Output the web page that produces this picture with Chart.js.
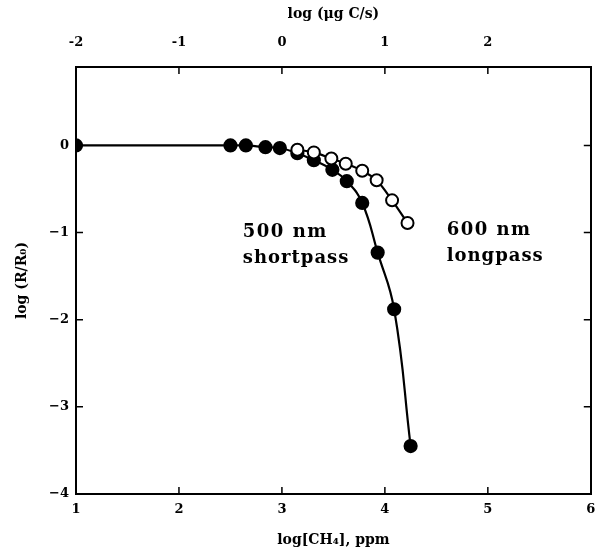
<!DOCTYPE html>
<html>
<head>
<meta charset="utf-8">
<script src="https://cdn.jsdelivr.net/npm/chart.js@4"></script>
<style>
  html, body { margin: 0; padding: 0; background: #fff; }
  #wrap { width: 599px; height: 553px; }
</style>
</head>
<body>
<div id="wrap"><canvas id="chart" width="599" height="553"></canvas></div>
<script>
// 500 nm shortpass (filled circles)
const shortX = [1.0, 2.50, 2.65, 2.84, 2.98, 3.15, 3.31, 3.49, 3.63, 3.78, 3.93, 4.09, 4.25];
const shortY = [0.0, 0.0, 0.0, -0.02, -0.03, -0.09, -0.17, -0.28, -0.41, -0.66, -1.23, -1.88, -3.45];

// 600 nm longpass (open circles)
const longX = [3.15, 3.31, 3.48, 3.62, 3.78, 3.92, 4.07, 4.22];
const longY = [-0.05, -0.08, -0.15, -0.21, -0.29, -0.40, -0.63, -0.89];

const bottomTicks = [1, 2, 3, 4, 5, 6];
const topTicks = [-2, -1, 0, 1, 2];
const leftTicks = [0, -1, -2, -3, -4];

const FONT = "'DejaVu Serif', serif";
const toPoints = (xs, ys) => xs.map((x, i) => ({ x: x, y: ys[i] }));

// inward tick marks on all four sides + curve labels
const innerTicks = {
  id: "innerTicks",
  afterDatasetsDraw(chart) {
    const ctx = chart.ctx;
    const a = chart.chartArea;
    const x = chart.scales.x, y = chart.scales.y;
    ctx.save();
    ctx.strokeStyle = "#000";
    ctx.lineWidth = 1.5;
    ctx.beginPath();
    bottomTicks.forEach(v => {
      const px = x.getPixelForValue(v);
      ctx.moveTo(px, a.bottom); ctx.lineTo(px, a.bottom - 7);
      ctx.moveTo(px, a.top); ctx.lineTo(px, a.top + 7);
    });
    leftTicks.forEach(v => {
      const py = y.getPixelForValue(v);
      ctx.moveTo(a.left, py); ctx.lineTo(a.left + 7, py);
      ctx.moveTo(a.right, py); ctx.lineTo(a.right - 7, py);
    });
    ctx.stroke();
    ctx.restore();
  },
  afterDraw(chart) {
    const ctx = chart.ctx;
    const x = chart.scales.x, y = chart.scales.y;
    ctx.save();
    ctx.fillStyle = "#000";
    ctx.font = "bold 18px " + FONT;
    ctx.textBaseline = "middle";
    ctx.letterSpacing = "1.5px";
    ctx.fillText("500 nm", x.getPixelForValue(2.62), y.getPixelForValue(-1.0));
    ctx.fillText("600 nm", x.getPixelForValue(4.60), y.getPixelForValue(-0.97));
    ctx.letterSpacing = "1px";
    ctx.fillText("shortpass", x.getPixelForValue(2.62), y.getPixelForValue(-1.29));
    ctx.fillText("longpass", x.getPixelForValue(4.60), y.getPixelForValue(-1.27));
    ctx.restore();
  }
};

new Chart(document.getElementById("chart"), {
  type: "scatter",
  data: {
    datasets: [
      {
        label: "500 nm shortpass",
        data: toPoints(shortX, shortY),
        showLine: true,
        borderColor: "#000",
        borderWidth: 2.2,
        backgroundColor: "#000",
        pointBackgroundColor: "#000",
        pointBorderColor: "#000",
        pointRadius: 6,
        tension: 0.45,
        order: 2,
      },
      {
        label: "600 nm longpass",
        data: toPoints(longX, longY),
        showLine: true,
        borderColor: "#000",
        borderWidth: 2.2,
        pointBackgroundColor: "#fff",
        pointBorderColor: "#000",
        pointBorderWidth: 2,
        pointRadius: 6,
        tension: 0.3,
        order: 1,
      },
    ],
  },
  options: {
    responsive: false,
    animation: false,
    layout: { padding: 0 },
    plugins: { legend: { display: false }, tooltip: { enabled: false } },
    scales: {
      x: {
        type: "linear",
        position: "bottom",
        min: 1, max: 6,
        afterBuildTicks: s => { s.ticks = bottomTicks.map(v => ({ value: v })); },
        afterFit: s => { s.height = 59; s.paddingRight = 0; s.paddingLeft = 0; },
        grid: { display: false, drawTicks: false },
        border: { display: true, color: "#000", width: 2 },
        ticks: { color: "#000", padding: 8, font: { family: FONT, size: 13, weight: "bold" } },
        title: {
          display: true, text: "log[CH₄], ppm", color: "#000",
          padding: { top: 6 },
          font: { family: FONT, size: 14, weight: "bold" },
        },
      },
      x2: {
        type: "linear",
        position: "top",
        min: -2, max: 3,
        afterBuildTicks: s => { s.ticks = topTicks.map(v => ({ value: v })); },
        afterFit: s => { s.height = 67; s.paddingRight = 0; s.paddingLeft = 0; },
        grid: { display: false, drawTicks: false },
        border: { display: true, color: "#000", width: 2 },
        ticks: { color: "#000", padding: 17, font: { family: FONT, size: 13, weight: "bold" } },
        title: {
          display: true, text: "log (μg C/s)", color: "#000",
          padding: { top: 6, bottom: 4 },
          font: { family: FONT, size: 14, weight: "bold" },
        },
      },
      y: {
        type: "linear",
        position: "left",
        min: -4, max: 0.9,
        afterBuildTicks: s => { s.ticks = leftTicks.map(v => ({ value: v })); },
        afterFit: s => { s.width = 76; },
        grid: { display: false, drawTicks: false },
        border: { display: true, color: "#000", width: 2 },
        ticks: {
          color: "#000", padding: 7,
          callback: v => (v < 0 ? "\u2212" + Math.abs(v) : String(v)),
          font: { family: FONT, size: 13, weight: "bold" },
        },
        title: {
          display: true, text: "log (R/R₀)", color: "#000",
          padding: { top: 14, bottom: 6 },
          font: { family: FONT, size: 14, weight: "bold" },
        },
      },
      y2: {
        type: "linear",
        position: "right",
        min: -4, max: 0.9,
        afterFit: s => { s.width = 6; },
        grid: { display: false, drawTicks: false },
        border: { display: true, color: "#000", width: 2 },
        ticks: { display: false },
      },
    },
  },
  plugins: [innerTicks],
});
</script>
</body>
</html>
